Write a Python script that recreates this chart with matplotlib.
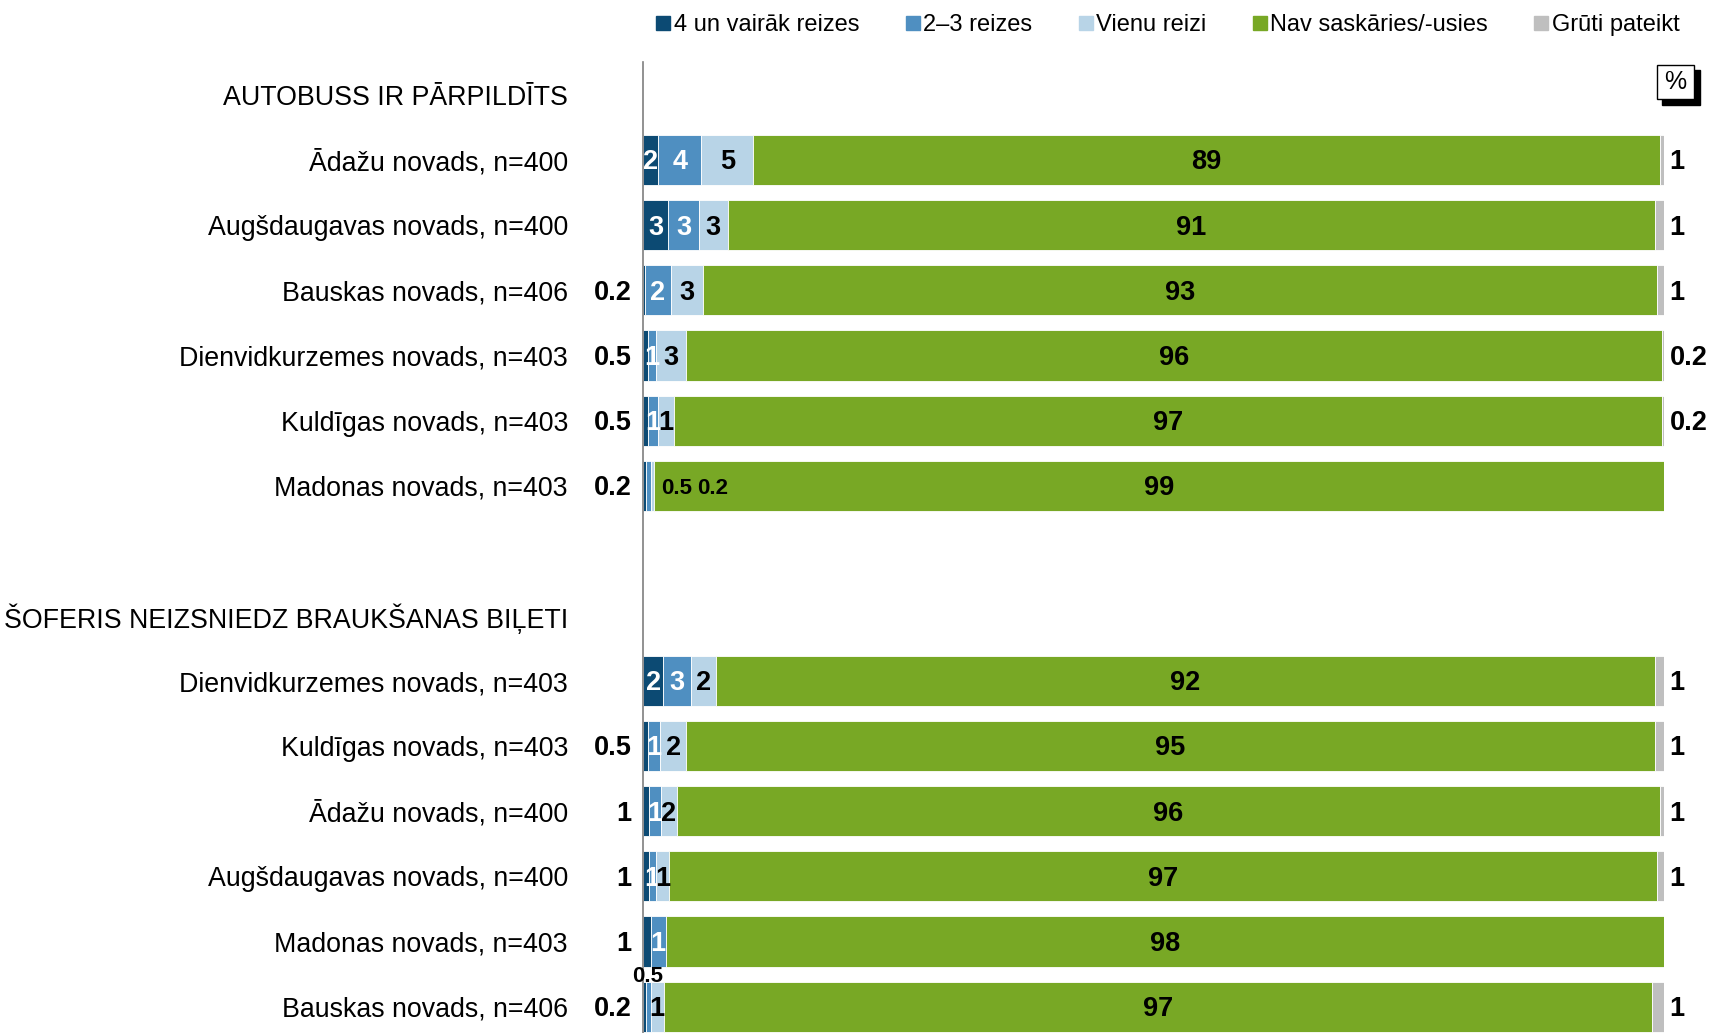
import matplotlib
matplotlib.use("Agg")
from matplotlib import pyplot as plt
from matplotlib.lines import Line2D
from matplotlib.patches import Rectangle
import numpy as np

plt.rcParams['font.family'] = ['Liberation Sans', 'DejaVu Sans']

series = ['4 un vairāk reizes', '2–3 reizes', 'Vienu reizi', 'Nav saskāries/-usies', 'Grūti pateikt']
colors = ['#0C4A73', '#4F8FC1', '#B8D4E7', '#78A825', '#BFBFBF']

header1 = 'AUTOBUSS IR PĀRPILDĪTS'
header2 = 'ŠOFERIS NEIZSNIEDZ BRAUKŠANAS BIĻETI'

cats1 = ['Ādažu novads, n=400', 'Augšdaugavas novads, n=400', 'Bauskas novads, n=406',
         'Dienvidkurzemes novads, n=403', 'Kuldīgas novads, n=403', 'Madonas novads, n=403']
cats2 = ['Dienvidkurzemes novads, n=403', 'Kuldīgas novads, n=403', 'Ādažu novads, n=400',
         'Augšdaugavas novads, n=400', 'Madonas novads, n=403', 'Bauskas novads, n=406']

# bar widths (%)
g1_dark = [1.5, 2.5, 0.2, 0.5, 0.5, 0.25]
g1_mid = [4.2, 3.0, 2.5, 0.75, 1.0, 0.5]
g1_light = [5.1, 2.8, 3.2, 3.0, 1.5, 0.3]
g1_green = [88.8, 90.8, 93.4, 95.55, 96.8, 98.95]
g1_grey = [0.4, 0.9, 0.7, 0.2, 0.2, 0.0]

g2_dark = [2.0, 0.5, 0.55, 0.55, 0.75, 0.25]
g2_mid = [2.7, 1.2, 1.2, 0.7, 1.5, 0.5]
g2_light = [2.5, 2.5, 1.55, 1.3, 0.0, 1.3]
g2_green = [91.9, 94.9, 96.3, 96.75, 97.75, 96.75]
g2_grey = [0.9, 0.9, 0.4, 0.7, 0.0, 1.2]

# data labels as printed
g1_dark_lbl = ['2', '3', '0.2', '0.5', '0.5', '0.2']
g1_mid_lbl = ['4', '3', '2', '1', '1', '0.5']
g1_light_lbl = ['5', '3', '3', '3', '1', '0.2']
g1_green_lbl = ['89', '91', '93', '96', '97', '99']
g1_grey_lbl = ['1', '1', '1', '0.2', '0.2', '']

g2_dark_lbl = ['2', '0.5', '1', '1', '1', '0.2']
g2_mid_lbl = ['3', '1', '1', '1', '1', '0.5']
g2_light_lbl = ['2', '2', '2', '1', '', '1']
g2_green_lbl = ['92', '95', '96', '97', '98', '97']
g2_grey_lbl = ['1', '1', '1', '1', '', '1']

# build rows: header, 6 rows, blank, header, 6 rows
ylabels = [header1] + cats1 + ['', header2] + cats2
rows1 = np.arange(1, 7)
rows2 = np.arange(9, 15)
vals = [np.array(g1_dark + g2_dark), np.array(g1_mid + g2_mid), np.array(g1_light + g2_light),
        np.array(g1_green + g2_green), np.array(g1_grey + g2_grey)]
lbls = [g1_dark_lbl + g2_dark_lbl, g1_mid_lbl + g2_mid_lbl, g1_light_lbl + g2_light_lbl,
        g1_green_lbl + g2_green_lbl, g1_grey_lbl + g2_grey_lbl]
ypos = np.concatenate([rows1, rows2])

fig = plt.figure(figsize=(17.1, 10.33), dpi=100)
ax = fig.add_axes([0.376, -0.006, 0.597, 0.9455])

fs = 19.5
dy = 0.035
left = np.zeros(len(ypos))
for k in range(5):
    ax.barh(ypos, vals[k], left=left, height=0.77, color=colors[k],
            edgecolor='white', linewidth=0.6)
    for i, y in enumerate(ypos):
        t = lbls[k][i]
        w = vals[k][i]
        if t == '':
            left[i] += w
            continue
        c = left[i] + w / 2
        if k == 0 and w < 1.2:
            ax.annotate(t, (0, y + dy), xytext=(-8, 0), textcoords='offset points',
                        ha='right', va='center', fontsize=fs, fontweight='bold')
        elif k == 4:
            ax.annotate(t, (100, y + dy), xytext=(4, 0), textcoords='offset points',
                        ha='left', va='center', fontsize=fs, fontweight='bold')
        elif y == 6 and k in (1, 2):
            # Madonas: labels moved into the green bar
            ax.text(3.3 if k == 1 else 6.8, y + dy, t, ha='center', va='center',
                    fontsize=16, fontweight='bold')
        elif y == 14 and k == 1:
            ax.text(c, y - 0.46, t, ha='center', va='center',
                    fontsize=16, fontweight='bold')
        else:
            col = 'white' if k < 2 else 'black'
            ax.text(c, y + dy, t, ha='center', va='center', color=col,
                    fontsize=fs, fontweight='bold')
        left[i] += w

ax.set_xlim(0, 100)
ax.set_ylim(14.5, -0.5)
ax.set_yticks(np.arange(15))
ax.set_yticklabels(ylabels, fontsize=19.3)
ax.tick_params(axis='y', length=0, pad=54)
ax.set_xticks([])
for s in ['top', 'right', 'bottom']:
    ax.spines[s].set_visible(False)
ax.spines['left'].set_color('#7F7F7F')
ax.spines['left'].set_linewidth(1.2)

handles = [Line2D([], [], marker='s', linestyle='none', markersize=10,
                  markerfacecolor=c, markeredgecolor=c) for c in colors]
fig.legend(handles, series, loc='center', bbox_to_anchor=(0.683, 0.976), ncol=5,
           frameon=False, fontsize=17, handlelength=0.6, handletextpad=0.15,
           columnspacing=1.95)

# percent box with shadow
fig.add_artist(Rectangle((0.9722, 0.8985), 0.0222, 0.0335, transform=fig.transFigure,
                         facecolor='black', edgecolor='black'))
fig.add_artist(Rectangle((0.969, 0.9042), 0.0215, 0.0325, transform=fig.transFigure,
                         facecolor='white', edgecolor='black', linewidth=1))
fig.text(0.9798, 0.9205, '%', ha='center', va='center', fontsize=18, color='black')

plt.savefig('out.png', dpi=100)
